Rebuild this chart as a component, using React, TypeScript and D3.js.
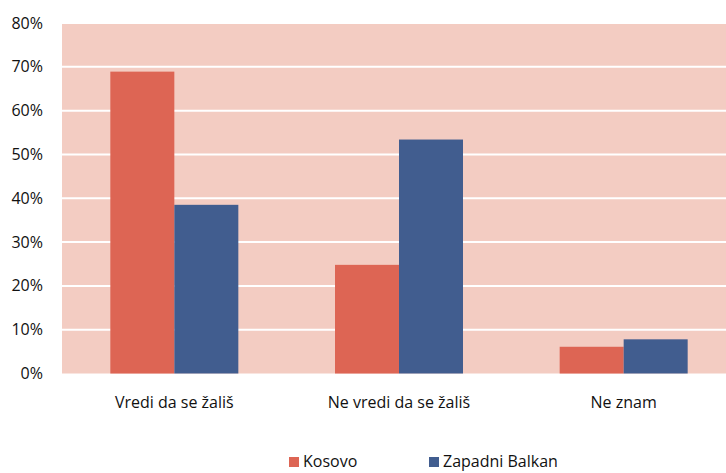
import React from "react";
import * as d3 from "d3";

const categories = ["Vredi da se žališ", "Ne vredi da se žališ", "Ne znam"];
const seriesNames = ["Kosovo", "Zapadni Balkan"];
const kosovo = [68.9, 24.8, 6.1];
const balkan = [38.5, 53.4, 7.8];
const yTicks = [0, 10, 20, 30, 40, 50, 60, 70, 80];
const colors = ["#DD6554", "#415D8F"];

export default function App() {
  const W = 726, H = 473;
  const left = 62, right = 736, top = 23, bottom = 373.5;
  const x = d3.scaleBand<string>().domain(categories).range([left, right]);
  const y = d3.scaleLinear().domain([0, 80]).range([bottom, top]);
  const barW = 64;
  const series = [kosovo, balkan];
  const font = "'Open Sans', sans-serif";
  return (
    <svg width={W} height={H} style={{ position: "absolute", left: 0, top: 0 }} fontFamily={font}>
      <rect x={left} y={top} width={right - left} height={bottom - top} fill="#F3CCC2" />
      {yTicks.slice(1).map((t) => (
        <line key={t} x1={left} x2={right} y1={y(t)} y2={y(t)} stroke="#fff" strokeWidth={2} />
      ))}
      {yTicks.map((t) => (
        <text key={t} x={43} y={y(t)} dy="0.35em" textAnchor="end" fontSize={16} fill="#111">
          {t}%
        </text>
      ))}
      {categories.map((c, i) => {
        const cx = (x(c) as number) + x.bandwidth() / 2;
        return (
          <g key={c}>
            {series.map((s, j) => (
              <rect
                key={j}
                x={cx - barW + j * barW}
                y={y(s[i])}
                width={barW}
                height={bottom - y(s[i])}
                fill={colors[j]}
              />
            ))}
            <text x={cx} y={408} textAnchor="middle" fontSize={16} fill="#111">
              {c}
            </text>
          </g>
        );
      })}
      {seriesNames.map((n, j) => {
        const lx = [289, 429][j];
        return (
          <g key={n}>
            <rect x={lx} y={457} width={10} height={10} fill={colors[j]} />
            <text x={lx + 14} y={467} fontSize={16} fill="#111">
              {n}
            </text>
          </g>
        );
      })}
    </svg>
  );
}
